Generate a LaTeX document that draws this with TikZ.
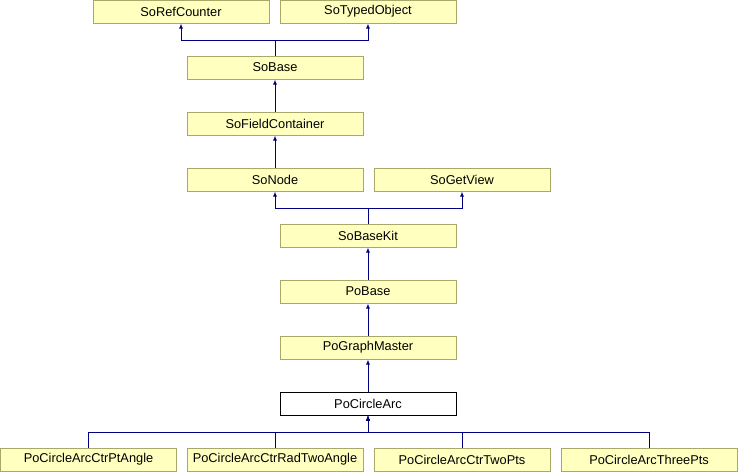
\documentclass[tikz,border=0pt]{standalone}
\usepackage{fontspec}
\setmainfont{Liberation Sans}
\usetikzlibrary{arrows.meta}
\definecolor{boxfill}{HTML}{FFFFC0}
\definecolor{boxdraw}{HTML}{A8A868}
\definecolor{edgecol}{HTML}{000080}
\tikzset{
  cls/.style={draw=boxdraw, fill=boxfill, line width=1pt, minimum width=176pt, minimum height=23pt, inner sep=0pt, font=\fontsize{12.8}{12.8}\selectfont},
  cur/.style={cls, draw=black, fill=white},
  inh/.style={draw=edgecol, line width=1pt, -{Latex[length=5pt,width=4pt]}}
}
\begin{document}
\begin{tikzpicture}[x=1pt,y=-1pt]
\useasboundingbox (0,0) rectangle (738,472);
\node[cls] (ref) at (181,11.5) {SoRefCounter};
\node[cls] (typ) at (368,11.5) {SoTypedObject};
\node[cls] (base) at (275,67.5) {SoBase};
\node[cls] (fc) at (275,123.5) {SoFieldContainer};
\node[cls] (node) at (275,179.5) {SoNode};
\node[cls] (gv) at (462,179.5) {SoGetView};
\node[cls] (kit) at (368,235.5) {SoBaseKit};
\node[cls] (pob) at (368,291.5) {PoBase};
\node[cls] (gm) at (368,347.5) {PoGraphMaster};
\node[cur] (arc) at (368,403.5) {PoCircleArc};
\node[cls] (c1) at (88.5,459.5) {PoCircleArcCtrPtAngle};
\node[cls] (c2) at (275,459.5) {PoCircleArcCtrRadTwoAngle};
\node[cls] (c3) at (462,459.5) {PoCircleArcCtrTwoPts};
\node[cls] (c4) at (649,459.5) {PoCircleArcThreePts};
% edges
\draw[inh] (base.north) -- ++(0,-15.5) -| (ref.south);
\draw[inh] (base.north) -- ++(0,-15.5) -| (typ.south);
\draw[inh] (fc) -- (base);
\draw[inh] (node) -- (fc);
\draw[inh] (kit.north) -- ++(0,-15.5) -| (node.south);
\draw[inh] (kit.north) -- ++(0,-15.5) -| (gv.south);
\draw[inh] (pob) -- (kit);
\draw[inh] (gm) -- (pob);
\draw[inh] (arc) -- (gm);
\draw[inh] (c1.north) -- ++(0,-15.5) -| (arc.south);
\draw[inh] (c2.north) -- ++(0,-15.5) -| (arc.south);
\draw[inh] (c3.north) -- ++(0,-15.5) -| (arc.south);
\draw[inh] (c4.north) -- ++(0,-15.5) -| (arc.south);
\end{tikzpicture}
\end{document}
